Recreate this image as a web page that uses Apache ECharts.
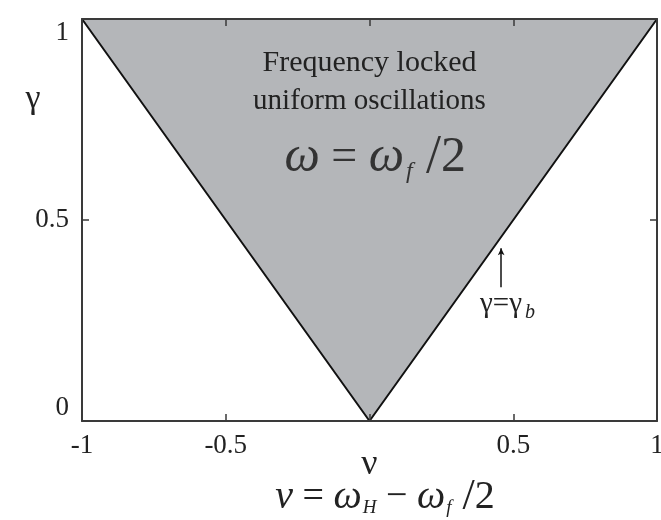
<!DOCTYPE html>
<html>
<head>
<meta charset="utf-8">
<script src="https://cdn.jsdelivr.net/npm/echarts@6/dist/echarts.min.js"></script>
<style>
  html, body { margin: 0; padding: 0; background: #fff; }
  #chart { width: 661px; height: 520px; }
</style>
</head>
<body>
<div id="chart"></div>
<script>
// Boundary of the locking region: gamma = |nu|
const nu = [-1, 0, 1];
const gammaBoundary = [1, 0, 1];

// Axis ranges and tick spacing
const nuRange = [-1, 1];
const gammaRange = [0, 1];
const tickStep = 0.5;

// Marker for the gamma = gamma_b boundary annotation
const markerNu = [0.458, 0.458];
const markerGamma = [0.333, 0.43];

const serif = '"Liberation Serif", "DejaVu Serif", serif';
const ink = '#222';
const frame = '#3a3a3a';
const fill = '#b4b6b9';

const chart = echarts.init(document.getElementById('chart'), null, { renderer: 'canvas' });

function axisBase(extra) {
  return Object.assign({
    type: 'value',
    interval: tickStep,
    z: 5,
    axisLine: { show: true, onZero: false, lineStyle: { color: frame, width: 2 } },
    axisTick: { show: true, inside: true, length: 7, lineStyle: { color: frame, width: 1.5 } },
    splitLine: { show: false },
    axisLabel: { show: false }
  }, extra);
}

const tickFont = { fontFamily: serif, fontSize: 27, color: ink };

chart.setOption({
  animation: false,
  grid: { left: 82, right: 4, top: 19, bottom: 99, containLabel: false, outerBoundsMode: 'none' },
  xAxis: [
    axisBase({
      min: nuRange[0], max: nuRange[1], position: 'bottom',
      name: 'ν', nameLocation: 'middle', nameGap: 26, nameMoveOverlap: false,
      nameTextStyle: { fontFamily: serif, fontSize: 36, color: ink },
      axisLabel: Object.assign({
        show: true, margin: 11,
        formatter: v => (v === 0 ? '' : String(v))
      }, tickFont)
    }),
    axisBase({ min: nuRange[0], max: nuRange[1], position: 'top' })
  ],
  yAxis: [
    axisBase({
      min: gammaRange[0], max: gammaRange[1], position: 'left',
      axisLabel: Object.assign({
        show: true, margin: 13,
        verticalAlignMinLabel: 'bottom',
        verticalAlignMaxLabel: 'top'
      }, tickFont)
    }),
    axisBase({ min: gammaRange[0], max: gammaRange[1], position: 'right' })
  ],
  series: [
    {
      type: 'line',
      data: nu.map((x, i) => [x, gammaBoundary[i]]),
      symbol: 'none',
      z: 2,
      lineStyle: { color: '#111', width: 2 },
      areaStyle: { color: fill, opacity: 1, origin: 'end' },
      markLine: {
        silent: true,
        symbol: ['none', 'arrow'],
        symbolSize: [5, 7],
        label: { show: false },
        lineStyle: { color: '#111', width: 1.5, type: 'solid' },
        data: [[
          { coord: [markerNu[0], markerGamma[0]] },
          { coord: [markerNu[1], markerGamma[1]] }
        ]]
      }
    }
  ]
});

// Annotations placed in data coordinates
const px = (x, y) => chart.convertToPixel({ gridIndex: 0 }, [x, y]);
const pTitle1 = px(0, 0.89);
const pTitle2 = px(0, 0.795);
const pFormula = px(0.02, 0.655);
const pGammaB = px(0.48, 0.29);

chart.setOption({
  graphic: [
    {
      type: 'text', x: pTitle1[0], y: pTitle1[1], z: 10,
      style: { text: 'Frequency locked', fontFamily: serif, fontSize: 30, fill: ink, align: 'center', verticalAlign: 'middle' }
    },
    {
      type: 'text', x: pTitle2[0], y: pTitle2[1], z: 10,
      style: { text: 'uniform oscillations', fontFamily: serif, fontSize: 29, fill: ink, align: 'center', verticalAlign: 'middle' }
    },
    {
      type: 'text', x: pFormula[0], y: pFormula[1], z: 10,
      style: {
        text: '{w|ω}{eq| = }{w|ω}{sub|f}{sl| /}{n|2}',
        align: 'center', verticalAlign: 'middle',
        rich: {
          w: { fontFamily: serif, fontStyle: 'italic', fontSize: 50, fill: '#333' },
          eq: { fontFamily: serif, fontSize: 46, fill: '#333' },
          sub: { fontFamily: serif, fontStyle: 'italic', fontSize: 24, fill: '#333', padding: [28, 0, 0, 2] },
          sl: { fontFamily: serif, fontSize: 54, fill: '#333' },
          n: { fontFamily: serif, fontSize: 50, fill: '#333' }
        }
      }
    },
    {
      type: 'text', x: pGammaB[0], y: pGammaB[1], z: 10,
      style: {
        text: '{g|γ=γ}{sub|b}',
        align: 'center', verticalAlign: 'middle',
        rich: {
          g: { fontFamily: serif, fontSize: 29, fill: ink },
          sub: { fontFamily: serif, fontStyle: 'italic', fontSize: 20, fill: ink, padding: [16, 0, 0, 3] }
        }
      }
    },
    {
      type: 'text', x: 33, y: 99, z: 10,
      style: { text: 'γ', fontFamily: serif, fontSize: 34, fill: ink, align: 'center', verticalAlign: 'middle' }
    },
    {
      type: 'text', x: 385, y: 497, z: 10,
      style: {
        text: '{v|ν}{eq| = }{w|ω}{sub|H}{mi| − }{w|ω}{sub|f}{sl| /}{n|2}',
        align: 'center', verticalAlign: 'middle',
        rich: {
          v: { fontFamily: serif, fontStyle: 'italic', fontSize: 40, fill: ink },
          w: { fontFamily: serif, fontStyle: 'italic', fontSize: 40, fill: ink },
          eq: { fontFamily: serif, fontSize: 38, fill: ink },
          mi: { fontFamily: serif, fontSize: 38, fill: ink },
          sub: { fontFamily: serif, fontStyle: 'italic', fontSize: 19, fill: ink, padding: [21, 0, 0, 1] },
          sl: { fontFamily: serif, fontSize: 44, fill: ink },
          n: { fontFamily: serif, fontSize: 40, fill: ink }
        }
      }
    }
  ]
});
</script>
</body>
</html>
